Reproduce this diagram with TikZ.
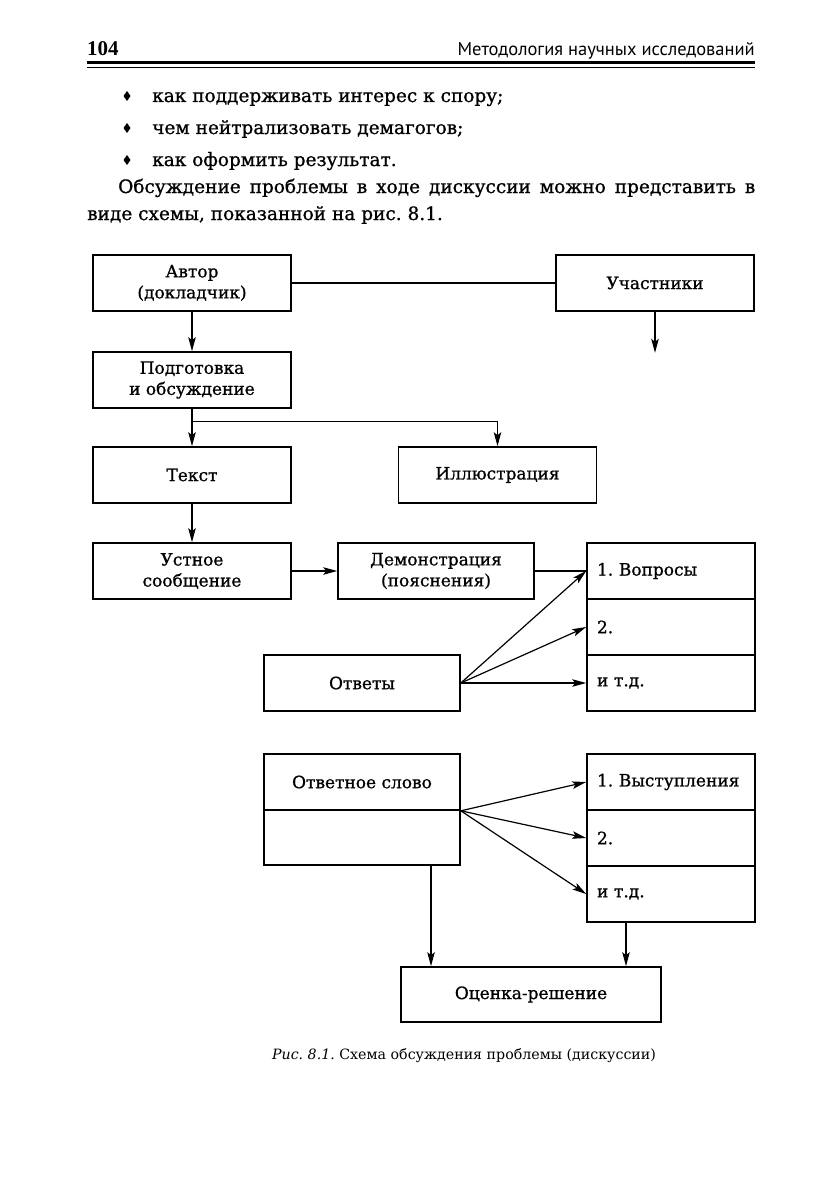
\documentclass[tikz,border=0pt]{standalone}
\usepackage{fontspec}
\setmainfont{DejaVu Serif}[FakeBold=0.9]
\newfontfamily\capfont{DejaVu Serif}
\newfontfamily\hdrfont{PT Sans}
\newfontfamily\numfont{Liberation Serif}
\usetikzlibrary{arrows.meta}
\frenchspacing
\begin{document}
\begin{tikzpicture}[x=1pt,y=-1pt,
  dfont/.style={font=\fontsize{17}{21}\selectfont},
  box/.style={draw, line width=1.6pt, minimum width=198pt, minimum height=56pt, inner sep=0pt, align=center, dfont},
  row/.style={draw, line width=1.6pt, minimum width=168pt, minimum height=56pt, inner xsep=10pt, inner ysep=0pt, text width=148pt, align=left, dfont},
  arr/.style={line width=1.2pt, -{Stealth[length=14pt,width=7.5pt,inset=3pt]}},
  ln/.style={line width=1.2pt},
  body/.style={anchor=base west, inner sep=0pt, font=\fontsize{18.5}{22}\selectfont}]
\useasboundingbox (0,0) rectangle (812,1204);
\fill[white] (0,0) rectangle (812,1204);

% header
\node[anchor=base west, inner sep=0pt, font=\numfont\fontsize{21}{22}\selectfont\bfseries] (pg) at (87,56) {104};
\node[anchor=base east, inner sep=0pt, font=\hdrfont\fontsize{18.5}{20}\selectfont] (hd) at (755,56) {Методология научных исследований};
\draw[line width=2.6pt] (87,62.5) -- (755,62.5);
\draw[line width=0.8pt] (87,67.6) -- (755,67.6);

% bullets
\foreach \yy in {96,128,160} \fill (127,\yy-5) -- (130.5,\yy) -- (127,\yy+5) -- (123.5,\yy) -- cycle;
\node[body] (b1) at (152,102) {как поддерживать интерес к спору;};
\node[body] (b2) at (152,134) {чем нейтрализовать демагогов;};
\node[body] (b3) at (152,166) {как оформить результат.};
\node[body] (p1) at (118,193) {\makebox[637pt][s]{Обсуждение проблемы в ходе дискуссии можно представить в}};
\node[body] (p2) at (87,220) {виде схемы, показанной на рис. 8.1.};

% diagram
\node[box] (avtor) at (192,283) {Автор\\(докладчик)};
\node[box] (uch) at (655,283) {Участники};
\node[box] (podg) at (192,380) {Подготовка\\и обсуждение};
\node[box] (tekst) at (192,475) {Текст};
\node[box] (ill) at (497.5,475) {Иллюстрация};
\node[box] (ust) at (192,571) {Устное\\сообщение};
\node[box, minimum width=196pt] (dem) at (436,571) {Демонстрация\\(пояснения)};
\node[row] (q1) at (671,571) {1. Вопросы};
\node[row] (q2) at (671,627) {2.};
\node[row] (q3) at (671,683) {и т.д.};
\node[box, minimum width=196pt] (otv) at (362,683) {Ответы};

\node[box, minimum width=196pt] (os1) at (362,782) {Ответное слово};
\node[box, minimum width=196pt, minimum height=55pt] (os2) at (362,837.5) {};
\node[row] (v1) at (671,782) {1. Выступления};
\node[row] (v2) at (671,838) {2.};
\node[row] (v3) at (671,894) {и т.д.};
\node[box, minimum width=260pt, minimum height=55pt] (oc) at (531,994.5) {Оценка-решение};

% connectors
\draw[ln] (avtor.east) -- (uch.west);
\draw[arr] (uch.south) -- ++(0,41);
\draw[arr] (avtor.south) -- (podg.north);
\draw[arr] (podg.south) -- (tekst.north);
\draw[arr] (podg.south) ++(0,13) -| (ill.north);
\draw[arr] (tekst.south) -- (ust.north);
\draw[arr] (ust.east) -- (dem.west);
\draw[ln] (dem.east) -- (q1.west);
\draw[arr] (otv.east) -- (q1.west);
\draw[arr] (otv.east) -- (q2.west);
\draw[arr] (otv.east) -- (q3.west);
\draw[arr] (os1.south east) -- (v1.west);
\draw[arr] (os1.south east) -- (v2.west);
\draw[arr] (os1.south east) -- (v3.west);
\draw[arr] ([xshift=69pt]os2.south) -- ([xshift=69pt]os2.south |- oc.north);
\draw[arr] ([xshift=-45pt]v3.south) -- ([xshift=-45pt]v3.south |- oc.north);

% caption
\node[anchor=base, inner sep=0pt, font=\capfont\fontsize{14.2}{18}\selectfont] (cap) at (464,1059) {\textit{Рис. 8.1}. Схема обсуждения проблемы (дискуссии)};
\end{tikzpicture}
\end{document}
